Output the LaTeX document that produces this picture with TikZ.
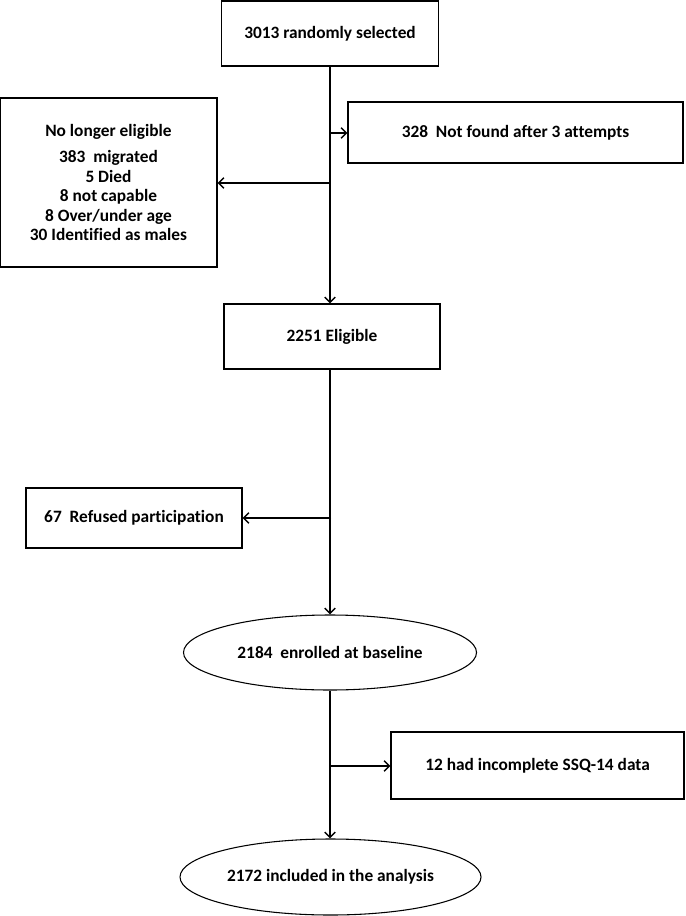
\documentclass[tikz,border=0pt]{standalone}
\usepackage{fontspec}
\setmainfont[Ligatures=NoCommon]{Carlito}
\usetikzlibrary{arrows.meta,shapes.geometric}

\tikzset{
  flowbox/.style={draw, line width=0.8pt, rectangle, inner sep=0pt, align=center, font=\bfseries\fontsize{13}{14.6}\selectfont},
  flowoval/.style={draw, line width=0.8pt, ellipse, inner sep=0pt, align=center, font=\bfseries\fontsize{13}{14.6}\selectfont},
  flowarrow/.style={line width=1.1pt, -{Straight Barb[length=4pt,width=8pt,line width=1.1pt]}}
}

\begin{document}
\begin{tikzpicture}[x=0.75pt,y=-0.75pt]
          % page
          \useasboundingbox (0,0) rectangle (685,916);
          % top part
          \node[flowbox, minimum width=162.75pt, minimum height=48.75pt] (sel) at (330,33.5) {3013 randomly selected};
          \node[flowbox, minimum width=251.25pt, minimum height=45.75pt] (notfound) at (515.5,132.5) {328\ \ Not found after 3 attempts};
          \node[flowbox, minimum width=162.75pt, minimum height=126.75pt] (noelig) at (108.5,182.5)
            {No longer eligible\\[5pt] 383\ \ migrated\\ 5 Died\\ 8 not capable\\ 8 Over/under age\\ 30 Identified as males};
          \node[flowbox, minimum width=162pt, minimum height=48.75pt] (elig) at (332,336.5) {2251 Eligible};
          % middle part
          \node[flowbox, minimum width=162pt, minimum height=45pt] (refused) at (134,518) {67\ \ Refused participation};
          \node[flowoval, minimum width=219.75pt, minimum height=56.25pt] (enrolled) at (330,652.5) {2184\ \ enrolled at baseline};
          % bottom part
          \node[flowbox, minimum width=219.75pt, minimum height=50.25pt] (ssq) at (537.5,765.5) {12 had incomplete SSQ-14 data};
          \node[flowoval, minimum width=225.75pt, minimum height=57pt] (incl) at (330.5,877) {2172 included in the analysis};
          % branch points
          \coordinate (b1) at (330,133);
          \coordinate (b2) at (330,183);
          \coordinate (b3) at (331,518);
          \coordinate (b4) at (330,766);
          % connectors
          \draw[flowarrow] (sel.south) -- (sel.south |- elig.north);
          \draw[flowarrow] (b1) -- (b1 -| notfound.west);
          \draw[flowarrow] (b2) -- (b2 -| noelig.east);
          \draw[flowarrow] (elig.south -| enrolled.north) -- (enrolled.north);
          \draw[flowarrow] (b3) -- (b3 -| refused.east);
          \draw[flowarrow] (enrolled.south) -- (incl.north -| enrolled.south);
          \draw[flowarrow] (b4) -- (b4 -| ssq.west);
        \end{tikzpicture}
\end{document}
